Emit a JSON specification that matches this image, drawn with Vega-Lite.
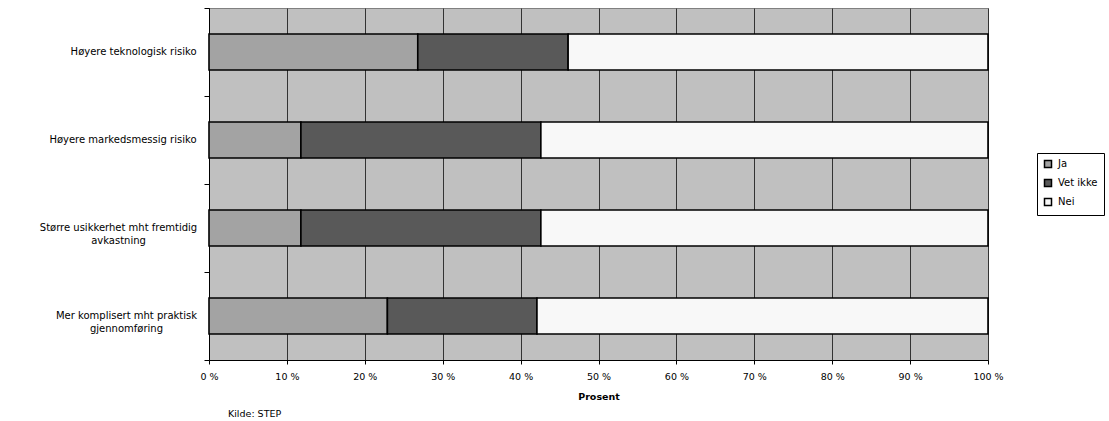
{
  "$schema": "https://vega.github.io/schema/vega-lite/v6.json",
  "width": 779,
  "height": 352,
  "autosize": {"type": "none"},
  "padding": {"left": 209, "top": 8, "right": 121, "bottom": 61},
  "background": "white",
  "config": {
    "view": {"fill": "#c0c0c0", "stroke": "#808080", "strokeWidth": 1},
    "font": "DejaVu Sans"
  },
  "title": {
    "text": "Kilde: STEP",
    "orient": "bottom",
    "anchor": "start",
    "frame": "group",
    "dx": 19,
    "offset": 8,
    "fontSize": 9.5,
    "fontWeight": "normal",
    "font": "DejaVu Sans",
    "color": "#000"
  },
  "data": {
    "values": [
      {"kategori": "Høyere teknologisk risiko", "svar": "Ja", "andel": 26.8},
      {"kategori": "Høyere teknologisk risiko", "svar": "Vet ikke", "andel": 19.3},
      {"kategori": "Høyere teknologisk risiko", "svar": "Nei", "andel": 53.9},
      {"kategori": "Høyere markedsmessig risiko", "svar": "Ja", "andel": 11.8},
      {"kategori": "Høyere markedsmessig risiko", "svar": "Vet ikke", "andel": 30.8},
      {"kategori": "Høyere markedsmessig risiko", "svar": "Nei", "andel": 57.4},
      {"kategori": "Større usikkerhet mht fremtidig avkastning", "svar": "Ja", "andel": 11.8},
      {"kategori": "Større usikkerhet mht fremtidig avkastning", "svar": "Vet ikke", "andel": 30.8},
      {"kategori": "Større usikkerhet mht fremtidig avkastning", "svar": "Nei", "andel": 57.4},
      {"kategori": "Mer komplisert mht praktisk gjennomføring", "svar": "Ja", "andel": 22.9},
      {"kategori": "Mer komplisert mht praktisk gjennomføring", "svar": "Vet ikke", "andel": 19.2},
      {"kategori": "Mer komplisert mht praktisk gjennomføring", "svar": "Nei", "andel": 57.9}
    ]
  },
  "transform": [
    {"calculate": "indexof(['Ja','Vet ikke','Nei'], datum.svar)", "as": "rekkefolge"}
  ],
  "mark": {
    "type": "bar",
    "height": {"band": 0.409},
    "stroke": "#000000",
    "strokeWidth": 1.6
  },
  "encoding": {
    "y": {
      "field": "kategori",
      "type": "nominal",
      "sort": null,
      "scale": {"paddingInner": 0, "paddingOuter": 0},
      "axis": {
        "title": null,
        "bandPosition": 1,
        "tickExtra": true,
        "grid": false,
        "domain": true,
        "domainColor": "#000000",
        "tickColor": "#000000",
        "tickSize": 5,
        "labelFont": "DejaVu Sans",
        "labelFontSize": 10,
        "labelColor": "#000000",
        "labelLimit": 300,
        "labelAlign": {"condition": {"test": "indexof(datum.label, 'mht') >= 0", "value": "center"}, "value": "right"},
        "labelPadding": {"condition": [
          {"test": "indexof(datum.label, 'Større') >= 0", "value": 86},
          {"test": "indexof(datum.label, 'Mer komplisert') >= 0", "value": 78}
        ], "value": 8},
        "labelLineHeight": 13,
        "labelExpr": "datum.label == 'Større usikkerhet mht fremtidig avkastning' ? ['Større usikkerhet mht fremtidig', 'avkastning'] : datum.label == 'Mer komplisert mht praktisk gjennomføring' ? ['Mer komplisert mht praktisk', 'gjennomføring'] : datum.label"
      }
    },
    "x": {
      "field": "andel",
      "type": "quantitative",
      "stack": "zero",
      "scale": {"domain": [0, 100], "nice": false},
      "axis": {
        "title": "Prosent",
        "titleFont": "DejaVu Sans",
        "titleFontSize": 9.5,
        "titleFontWeight": "bold",
        "titleColor": "#000000",
        "titlePadding": 11,
        "values": [0, 10, 20, 30, 40, 50, 60, 70, 80, 90, 100],
        "labelExpr": "datum.value + ' %'",
        "labelFont": "DejaVu Sans",
        "labelFontSize": 9.5,
        "labelColor": "#000000",
        "labelPadding": 7,
        "labelFlush": false,
        "grid": true,
        "gridColor": "#333333",
        "gridWidth": 1,
        "gridOpacity": 1,
        "domainColor": "#000000",
        "tickColor": "#000000",
        "tickSize": 4
      }
    },
    "color": {
      "field": "svar",
      "type": "nominal",
      "scale": {"domain": ["Ja", "Vet ikke", "Nei"], "range": ["#a3a3a3", "#595959", "#f8f8f8"]},
      "legend": {
        "title": null,
        "orient": "none",
        "legendX": 828,
        "legendY": 145,
        "strokeColor": "#000000",
        "padding": 6,
        "symbolType": "square",
        "symbolSize": 49,
        "symbolStrokeColor": "#000000",
        "symbolStrokeWidth": 1.5,
        "labelFont": "DejaVu Sans",
        "labelFontSize": 10,
        "labelColor": "#000000",
        "labelOffset": 5,
        "rowPadding": 5
      }
    },
    "order": {"field": "rekkefolge", "type": "quantitative"}
  }
}
